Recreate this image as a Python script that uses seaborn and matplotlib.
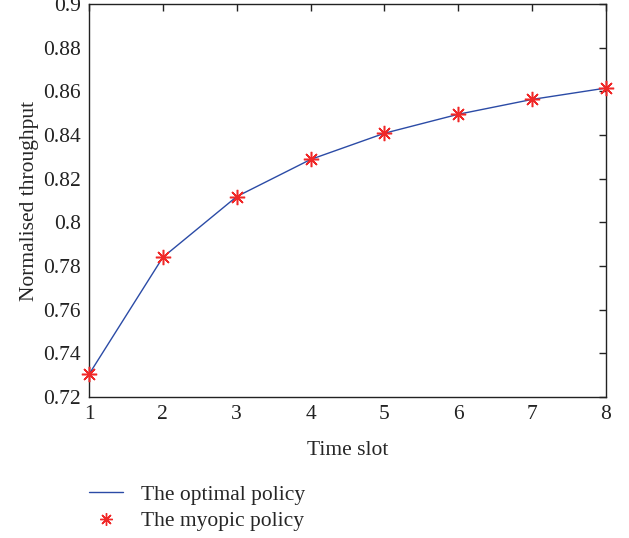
import numpy as np
import pandas as pd
import seaborn as sns
import matplotlib.pyplot as plt
from matplotlib.lines import Line2D

# data
time_slot = [1, 2, 3, 4, 5, 6, 7, 8]
optimal = [0.7304, 0.7840, 0.8118, 0.8288, 0.8408, 0.8495, 0.8563, 0.8615]
myopic = [0.7304, 0.7840, 0.8118, 0.8288, 0.8408, 0.8495, 0.8563, 0.8615]
y_ticks = [0.72, 0.74, 0.76, 0.78, 0.8, 0.82, 0.84, 0.86, 0.88, 0.9]
y_tick_labels = ["0.72", "0.74", "0.76", "0.78", "0.8", "0.82", "0.84", "0.86", "0.88", "0.9"]

sns.set_theme(style="white")
plt.rcParams['font.family'] = ['Liberation Serif', 'DejaVu Serif']

blue = '#2b4ba6'
red = '#f02828'
fs = 15.5

df = pd.DataFrame({'slot': time_slot, 'optimal': optimal, 'myopic': myopic})

fig = plt.figure(figsize=(6.29, 5.38), dpi=100)
ax = fig.add_axes([0.1415, 0.262, 0.822, 0.7306])

sns.lineplot(data=df, x='slot', y='optimal', ax=ax, color=blue, linewidth=1.0)
sns.lineplot(data=df, x='slot', y='myopic', ax=ax, color=red, linestyle='',
             marker=(8, 2, 0), markersize=11, markeredgewidth=1.1,
             markeredgecolor=red, clip_on=False, zorder=5)

ax.set_xlim(1, 8)
ax.set_ylim(0.72, 0.9)
ax.set_xticks(time_slot)
ax.set_yticks(y_ticks)
ax.set_yticklabels(y_tick_labels)
ax.tick_params(direction='in', top=True, right=True, length=5, width=1,
               labelsize=fs, colors='#222222', pad=6)
for s in ax.spines.values():
    s.set_color('#222222')
    s.set_linewidth(1.0)

ax.set_xlabel("Time slot", fontsize=fs, labelpad=12)
ax.set_ylabel("Normalised throughput", fontsize=fs, labelpad=3)

handles = [Line2D([], [], color=blue, linewidth=1.0),
           Line2D([], [], color=red, linestyle='', marker=(8, 2, 0),
                  markersize=9, markeredgewidth=1.0)]
fig.legend(handles, ["The optimal policy", "The myopic policy"],
           loc='upper left', bbox_to_anchor=(0.1415, 0.099), frameon=False,
           fontsize=fs, handlelength=1.6, handletextpad=0.8,
           borderpad=0, borderaxespad=0, labelspacing=0.3)

fig.savefig("out.png", dpi=100)
